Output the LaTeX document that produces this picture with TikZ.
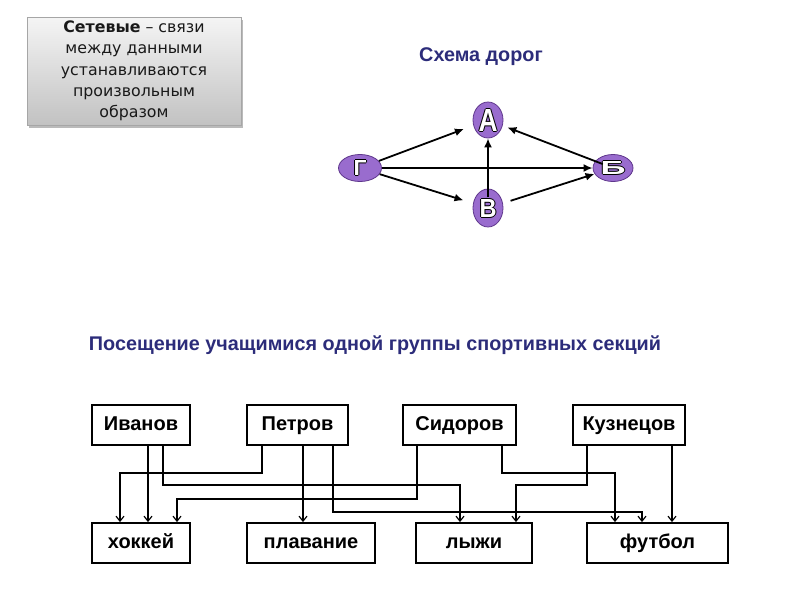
\documentclass[tikz,border=0pt]{standalone}
\usepackage{fontspec}
\setmainfont{Liberation Sans}
\newfontfamily\boxfont{DejaVu Sans}
\usetikzlibrary{arrows.meta,shapes.geometric,shadows,calc}
\definecolor{navy}{RGB}{44,44,122}
\definecolor{vio}{RGB}{153,108,206}
\definecolor{viodark}{RGB}{95,55,140}
\newcommand{\olet}[3]{\leavevmode\def\lt{\resizebox{#1}{#2}{\bfseries #3}}\rlap{\color{black}\kern-1pt\lt}\rlap{\color{black}\kern1pt\lt}\rlap{\color{black}\raisebox{1pt}{\lt}}\rlap{\color{black}\raisebox{-1pt}{\lt}}{\color{white}\lt}}
\begin{document}
\begin{tikzpicture}[x=1pt,y=-1pt,
  person/.style={draw,line width=1.8pt,minimum height=40pt,inner sep=0pt,text height=14.5pt,text depth=4pt,font=\fontsize{20}{22}\selectfont\bfseries},
  conn/.style={line width=1.6pt,-{Straight Barb[length=5pt,width=8pt,line width=1.2pt]}},
  town/.style={ellipse,draw=viodark,line width=0.8pt,fill=vio,inner sep=0pt},
  road/.style={line width=1.8pt,-{Latex[length=9pt,width=8pt]}},
  ttl/.style={text=navy,font=\fontsize{19.8}{22}\selectfont\bfseries}]
\useasboundingbox (0,0) rectangle (800,600);
% top-left note
\node[draw=black!35,line width=0.6pt,top color=black!4,bottom color=black!24,
  drop shadow={shadow xshift=2pt,shadow yshift=-3pt,fill=black!45,opacity=0.6},
  minimum width=214pt,minimum height=108pt,inner sep=0pt,align=center,
  font=\boxfont\fontsize{15.8}{21.3}\selectfont,text=black!90] (note) at (134,71)
  {\textbf{Сетевые} – связи\\между данными\\устанавливаются\\произвольным\\образом};
% road scheme
\node[ttl] (t1) at (481,57) {Схема дорог};
\node[town,minimum width=30pt,minimum height=36pt] (a) at (488,120) {\olet{19pt}{22pt}{А}};
\node[town,minimum width=43pt,minimum height=27pt] (g) at (360,168) {\olet{13pt}{15pt}{Г}};
\node[town,minimum width=40pt,minimum height=27pt] (b) at (613,168) {\olet{25pt}{13pt}{Б}};
\node[town,minimum width=30pt,minimum height=38pt] (v) at (488,208) {\olet{17pt}{18pt}{В}};
\draw[road,shorten >=10pt] (g) -- (a);
\draw[road] (g.east) -- (b.west);
\draw[road,shorten >=10pt] (g) -- (v);
\draw[road] ([yshift=11pt]v.center) -- (a.south);
\draw[road,shorten >=5pt] ($(b.center)!11pt!(a.center)$) -- (a);
\draw[road,shorten <=8pt] (v) -- (b);
% sports
\node[ttl] (t2) at (375,345) {Посещение учащимися одной группы спортивных секций};
\node[person,minimum width=98pt] (iv) at (141,425) {Иванов};
\node[person,minimum width=101pt] (pt) at (297.5,425) {Петров};
\node[person,minimum width=113pt] (sd) at (459.5,425) {Сидоров};
\node[person,minimum width=112pt] (kz) at (629,425) {Кузнецов};
\node[person,minimum width=98pt] (hk) at (141,543) {хоккей};
\node[person,minimum width=128pt] (pl) at (311,543) {плавание};
\node[person,minimum width=116pt] (ly) at (474,543) {лыжи};
\node[person,minimum width=141pt] (fb) at (657.5,543) {футбол};
\draw[conn] ([xshift=7pt]iv.south) -- ([xshift=7pt]hk.north);
\draw[conn] ([xshift=22pt]iv.south) -- ++(0,39) -| ([xshift=-14pt]ly.north);
\draw[conn] ([xshift=-35.5pt]pt.south) -- ++(0,27) -| ([xshift=-21pt]hk.north);
\draw[conn] ([xshift=-42.5pt]sd.south) -- ++(0,53) -| ([xshift=36pt]hk.north);
\draw[conn] ([xshift=5.5pt]pt.south) -- ([xshift=-8pt]pl.north);
\draw[conn] ([xshift=35.5pt]pt.south) -- ++(0,66) -| ([xshift=-15.5pt]fb.north);
\draw[conn] ([xshift=42.5pt]sd.south) -- ++(0,27) -| ([xshift=-42.5pt]fb.north);
\draw[conn] ([xshift=-42pt]kz.south) -- ++(0,39) -| ([xshift=42pt]ly.north);
\draw[conn] ([xshift=43pt]kz.south) -- ([xshift=14.5pt]fb.north);
\end{tikzpicture}
\end{document}
